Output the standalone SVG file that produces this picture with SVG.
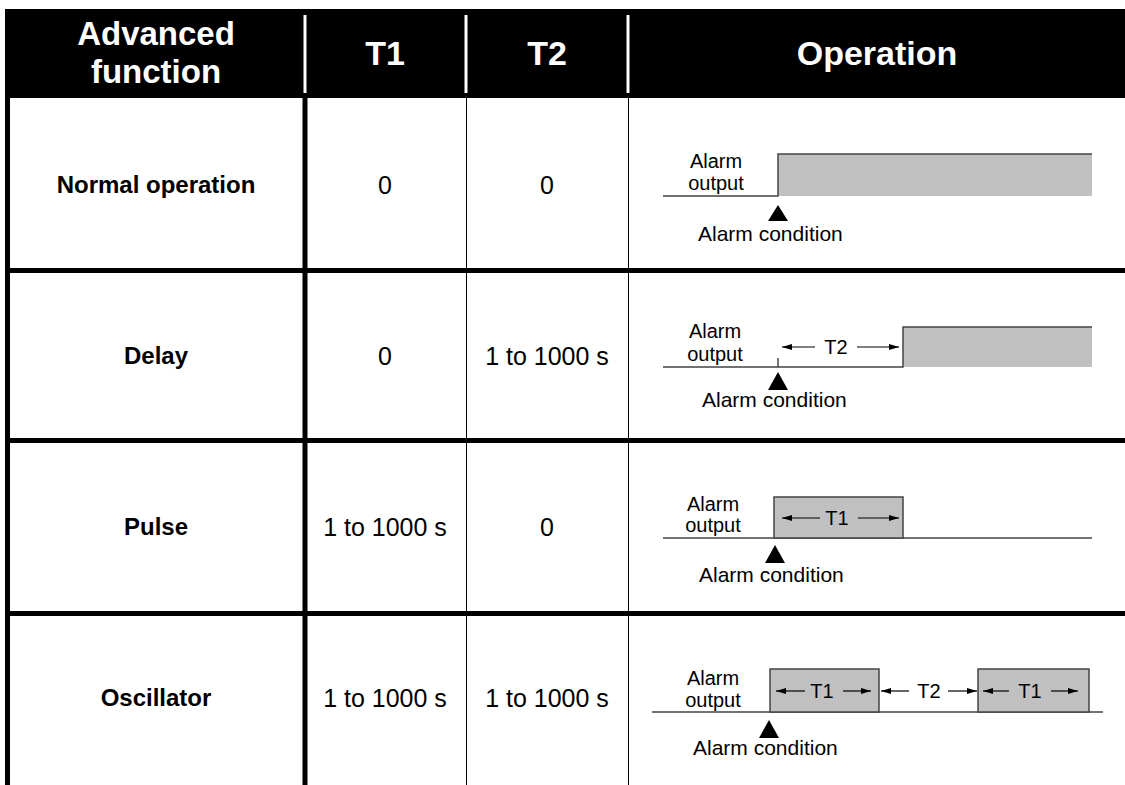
<svg xmlns="http://www.w3.org/2000/svg" width="1125" height="785" viewBox="0 0 1125 785">
<style>
.hd{font-family:"Liberation Sans",Arial,sans-serif;font-weight:bold;font-size:34px;fill:#fff;text-anchor:middle}
.hd2{font-family:"Liberation Sans",Arial,sans-serif;font-weight:bold;font-size:33px;fill:#fff;text-anchor:middle}
.rn{font-family:"Liberation Sans",Arial,sans-serif;font-weight:bold;font-size:24px;fill:#000;text-anchor:middle}
.cv{font-family:"Liberation Sans",Arial,sans-serif;font-size:25px;fill:#000;text-anchor:middle}
.lb{font-family:"Liberation Sans",Arial,sans-serif;font-size:21px;fill:#000}
.lc{font-family:"Liberation Sans",Arial,sans-serif;font-size:20px;fill:#000;text-anchor:middle}
.tk{stroke:#000;stroke-width:5;fill:none}
.tn{stroke:#000;stroke-width:1;fill:none}
.wl{stroke:#fff;stroke-width:3}
.sig{stroke:#444;stroke-width:1.5;fill:none}
.pulse{fill:#c0c0c0;stroke:#444;stroke-width:1.5}
.fillonly{fill:#c0c0c0;stroke:none}
.ar{stroke:#000;stroke-width:1.2;fill:none;marker-end:url(#ah)}
.tri{fill:#000}
</style>
<defs>
<marker id="ah" viewBox="0 0 10 6" refX="10" refY="3" markerWidth="10" markerHeight="6" markerUnits="userSpaceOnUse" orient="auto">
<path d="M0,0 L10,3 L0,6 Z" fill="#000"/>
</marker>
</defs>
<rect width="1125" height="785" fill="#fff"/>

<g id="header">
<rect x="5" y="9" width="1120" height="89" fill="#000"/>
<line class="wl" x1="305" y1="15" x2="305" y2="93"/>
<line class="wl" x1="466" y1="15" x2="466" y2="93"/>
<line class="wl" x1="628" y1="15" x2="628" y2="93"/>
<text class="hd2" x="156" y="45">Advanced</text>
<text class="hd2" x="156" y="83">function</text>
<text class="hd" x="385" y="65">T1</text>
<text class="hd" x="547" y="65">T2</text>
<text class="hd" x="877" y="65">Operation</text>
</g>

<g id="grid">
<line class="tk" x1="7.5" y1="9" x2="7.5" y2="785"/>
<line class="tk" x1="305" y1="98" x2="305" y2="785"/>
<line class="tn" x1="466.5" y1="98" x2="466.5" y2="785"/>
<line class="tn" x1="628.5" y1="98" x2="628.5" y2="785"/>
<line class="tk" x1="5" y1="270.5" x2="1125" y2="270.5"/>
<line class="tk" x1="5" y1="440.5" x2="1125" y2="440.5"/>
<line class="tk" x1="5" y1="613.5" x2="1125" y2="613.5"/>
</g>

<g id="row-normal">
<text class="rn" x="156" y="193">Normal operation</text>
<text class="cv" x="385" y="194">0</text>
<text class="cv" x="547" y="194">0</text>
<rect class="fillonly" x="778" y="154" width="314" height="42"/>
<polyline class="sig" points="663,196 778,196 778,154 1092,154"/>
<text class="lc" x="716" y="168">Alarm</text>
<text class="lc" x="716" y="190">output</text>
<polygon class="tri" points="778,205 768,221 788,221"/>
<text class="lb" x="698" y="241">Alarm condition</text>
</g>

<g id="row-delay">
<text class="rn" x="156" y="364">Delay</text>
<text class="cv" x="385" y="365">0</text>
<text class="cv" x="547" y="365">1 to 1000 s</text>
<rect class="fillonly" x="903" y="327" width="189" height="40"/>
<polyline class="sig" points="663,367 903,367 903,327 1092,327"/>
<line class="sig" x1="778" y1="358" x2="778" y2="367"/>
<text class="lc" x="715" y="338">Alarm</text>
<text class="lc" x="715" y="361">output</text>
<polygon class="tri" points="778,372 768,390 788,390"/>
<text class="lb" x="702" y="407">Alarm condition</text>
</g>

<g id="row-pulse">
<text class="rn" x="156" y="535">Pulse</text>
<text class="cv" x="385" y="536">1 to 1000 s</text>
<text class="cv" x="547" y="536">0</text>
<line class="sig" x1="663" y1="538" x2="1092" y2="538"/>
<rect class="pulse" x="774" y="497" width="129" height="41"/>
<text class="lc" x="713" y="511">Alarm</text>
<text class="lc" x="713" y="532">output</text>
<polygon class="tri" points="775,545 765,563 785,563"/>
<text class="lb" x="699" y="582">Alarm condition</text>
</g>

<g id="row-oscillator">
<text class="rn" x="156" y="706">Oscillator</text>
<text class="cv" x="385" y="707">1 to 1000 s</text>
<text class="cv" x="547" y="707">1 to 1000 s</text>
<line class="sig" x1="652" y1="712" x2="1103" y2="712"/>
<rect class="pulse" x="770" y="669" width="109" height="43"/>
<rect class="pulse" x="978" y="669" width="111" height="43"/>
<text class="lc" x="713" y="685">Alarm</text>
<text class="lc" x="713" y="707">output</text>
<polygon class="tri" points="769,720 759,738 779,738"/>
<text class="lb" x="693" y="755">Alarm condition</text>
</g>

<g id="connectors">
<line class="ar" x1="815" y1="347" x2="782" y2="347"/>
<line class="ar" x1="857" y1="347" x2="899" y2="347"/>
<text class="lc" x="836" y="354">T2</text>

<line class="ar" x1="820" y1="518" x2="782" y2="518"/>
<line class="ar" x1="858" y1="518" x2="899" y2="518"/>
<text class="lc" x="837" y="525">T1</text>

<line class="ar" x1="805" y1="691" x2="776" y2="691"/>
<line class="ar" x1="843" y1="691" x2="871" y2="691"/>
<text class="lc" x="822" y="698">T1</text>
<line class="ar" x1="909" y1="691" x2="881" y2="691"/>
<line class="ar" x1="948" y1="691" x2="977" y2="691"/>
<text class="lc" x="929" y="698">T2</text>
<line class="ar" x1="1009" y1="691" x2="983" y2="691"/>
<line class="ar" x1="1051" y1="691" x2="1078" y2="691"/>
<text class="lc" x="1030" y="698">T1</text>
</g>
</svg>
